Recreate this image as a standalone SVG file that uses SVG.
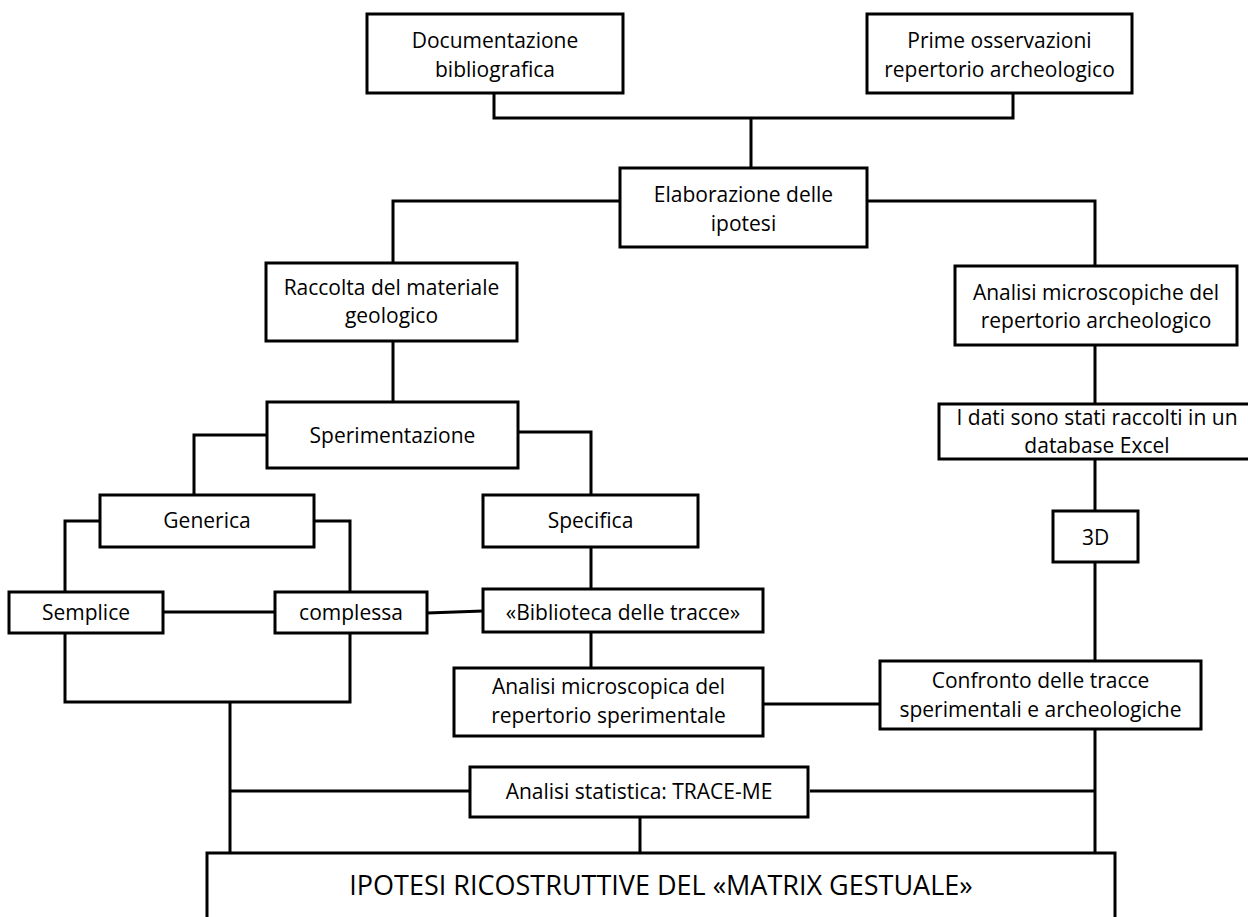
<svg xmlns="http://www.w3.org/2000/svg" width="1248" height="917" viewBox="0 0 1248 917">
<style>
.box{fill:#fff;stroke:#000;stroke-width:3}
.t{font-family:"Open Sans","Noto Sans",sans-serif;font-size:21px;fill:#000;text-anchor:middle}
.big{font-size:27px}
.c{fill:none;stroke:#000;stroke-width:3}
</style>
<rect width="1248" height="917" fill="#fff"/>
<g id="connectors" class="c">
<polyline points="494,93 494,118 1013,118 1013,93"/>
<line x1="751" y1="118" x2="751" y2="168"/>
<polyline points="620,201 393,201 393,263"/>
<polyline points="867,201 1095,201 1095,266"/>
<line x1="393" y1="341" x2="393" y2="402"/>
<line x1="1095" y1="345" x2="1095" y2="404"/>
<line x1="1095" y1="459" x2="1095" y2="511"/>
<line x1="1095" y1="562" x2="1095" y2="661"/>
<polyline points="267,435 194,435 194,495"/>
<polyline points="518,432 591,432 591,495"/>
<polyline points="100,521 65,521 65,592"/>
<polyline points="314,521 350,521 350,592"/>
<line x1="591" y1="547" x2="591" y2="589"/>
<line x1="591" y1="632" x2="591" y2="668"/>
<line x1="163" y1="612" x2="275" y2="612"/>
<line x1="427" y1="613" x2="483" y2="611"/>
<polyline points="65,633 65,702 350,702 350,633"/>
<line x1="230" y1="702" x2="230" y2="853"/>
<line x1="230" y1="791" x2="470" y2="791"/>
<line x1="763" y1="704" x2="880" y2="704"/>
<line x1="1095" y1="729" x2="1095" y2="853"/>
<line x1="810" y1="791" x2="1095" y2="791"/>
<line x1="640" y1="817" x2="640" y2="853"/>
</g>
<g id="doc"><rect class="box" x="367" y="14" width="256" height="79"/><text class="t" x="495" y="48">Documentazione</text><text class="t" x="495" y="77">bibliografica</text></g>
<g id="prime"><rect class="box" x="867" y="14" width="265" height="79"/><text class="t" x="999.5" y="48">Prime osservazioni</text><text class="t" x="999.5" y="77">repertorio archeologico</text></g>
<g id="elab"><rect class="box" x="620" y="168" width="247" height="79"/><text class="t" x="743.5" y="202">Elaborazione delle</text><text class="t" x="743.5" y="231">ipotesi</text></g>
<g id="raccolta"><rect class="box" x="266" y="263" width="251" height="78"/><text class="t" x="391.5" y="295">Raccolta del materiale</text><text class="t" x="391.5" y="323">geologico</text></g>
<g id="analisi-arch"><rect class="box" x="955" y="266" width="282" height="79"/><text class="t" x="1096" y="300">Analisi microscopiche del</text><text class="t" x="1096" y="328">repertorio archeologico</text></g>
<g id="sperimentazione"><rect class="box" x="267" y="402" width="251" height="66"/><text class="t" x="392.5" y="443">Sperimentazione</text></g>
<g id="dati"><rect class="box" x="939" y="404" width="316" height="55"/><text class="t" x="1097" y="425">I dati sono stati raccolti in un</text><text class="t" x="1097" y="453">database Excel</text></g>
<g id="generica"><rect class="box" x="100" y="495" width="214" height="52"/><text class="t" x="207" y="528">Generica</text></g>
<g id="specifica"><rect class="box" x="483" y="495" width="215" height="52"/><text class="t" x="590.5" y="528">Specifica</text></g>
<g id="d3"><rect class="box" x="1053" y="511" width="85" height="51"/><text class="t" x="1095.5" y="545">3D</text></g>
<g id="semplice"><rect class="box" x="9" y="592" width="154" height="41"/><text class="t" x="86" y="620">Semplice</text></g>
<g id="complessa"><rect class="box" x="275" y="592" width="152" height="41"/><text class="t" x="351" y="620">complessa</text></g>
<g id="biblioteca"><rect class="box" x="483" y="589" width="280" height="43"/><text class="t" x="623" y="620">«Biblioteca delle tracce»</text></g>
<g id="analisi-sper"><rect class="box" x="454" y="668" width="309" height="68"/><text class="t" x="608.5" y="694">Analisi microscopica del</text><text class="t" x="608.5" y="723">repertorio sperimentale</text></g>
<g id="confronto"><rect class="box" x="880" y="661" width="321" height="68"/><text class="t" x="1040.5" y="688">Confronto delle tracce</text><text class="t" x="1040.5" y="717">sperimentali e archeologiche</text></g>
<g id="statistica"><rect class="box" x="470" y="767" width="338" height="50"/><text class="t" x="639" y="799">Analisi statistica: TRACE-ME</text></g>
<g id="ipotesi"><rect class="box" x="207" y="853" width="908" height="90"/><text class="t big" x="661" y="895">IPOTESI RICOSTRUTTIVE DEL «MATRIX GESTUALE»</text></g>
</svg>
